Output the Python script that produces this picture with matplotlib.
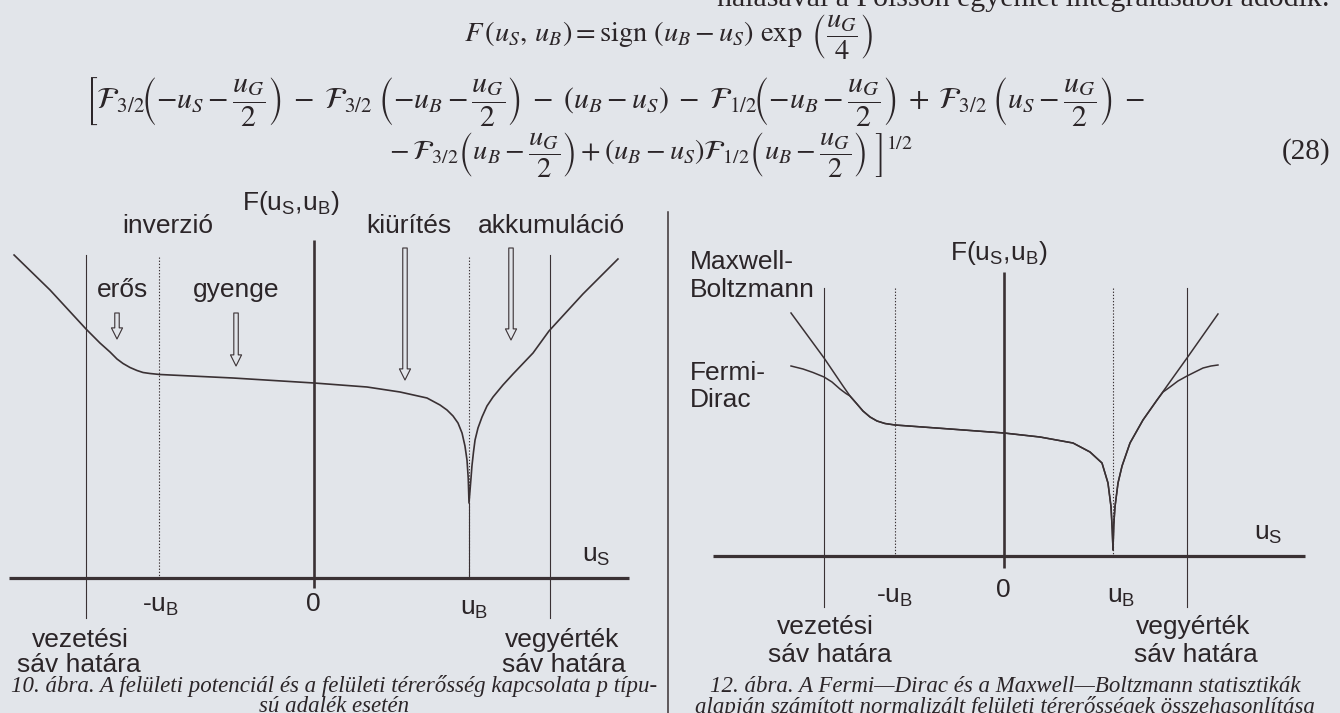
import matplotlib
matplotlib.use("Agg")
import matplotlib.pyplot as plt
from matplotlib.lines import Line2D

W, H = 1340, 713
BG = "#e2e5ea"
INK = "#2b2528"
LINE = "#3a3134"
SANS = "Liberation Sans"
SERIF = "Liberation Serif"

# ---------------- data: 10. ábra (F vs u_S, in units of u_B) ----------------
f10_us = [-1.935, -1.703, -1.471, -1.381, -1.316, -1.271, -1.232, -1.187, -1.142,
          -1.103, -1.058, -0.994, -0.523, 0.0, 0.342, 0.555, 0.729, 0.813, 0.858,
          0.897, 0.929, 0.955, 0.974, 0.987, 0.995, 1.0, 1.013, 1.019, 1.029, 1.039,
          1.058, 1.084, 1.116, 1.155, 1.219, 1.284, 1.413, 1.516, 1.735, 1.961]
f10_F = [3.23, 2.88, 2.49, 2.35, 2.26, 2.19, 2.145, 2.105, 2.075,
         2.055, 2.045, 2.035, 2.00, 1.95, 1.91, 1.86, 1.80, 1.73, 1.68,
         1.62, 1.55, 1.45, 1.32, 1.18, 1.00, 0.75, 1.00, 1.12, 1.26, 1.38,
         1.50, 1.61, 1.72, 1.81, 1.93, 2.04, 2.25, 2.47, 2.84, 3.19]
f10_bands = [-1.47, 1.52]          # vezetési / vegyérték sáv határa
f10_ub = [-1.0, 1.0]               # -u_B, u_B
f10_arrow_x = [-1.271, -0.503, 0.587, 1.271]   # erős, gyenge, kiürítés, akkumuláció
f10_arrow_top = [2.65, 2.65, 3.30, 3.30]
f10_arrow_tip = [2.39, 2.12, 1.98, 2.38]

# ---------------- data: 12. ábra (Maxwell–Boltzmann vs Fermi–Dirac) ----------------
mb_us = [-1.954, -1.826, -1.651, -1.477, -1.413, -1.349, -1.294, -1.229, -1.165,
         -1.092, -1.0, -0.495, 0.0, 0.330, 0.633, 0.789, 0.899, 0.954, 0.982,
         0.993, 1.0, 1.007, 1.018, 1.046, 1.083, 1.156, 1.275, 1.404, 1.541,
         1.679, 1.963]
mb_F = [2.43, 2.24, 1.98, 1.70, 1.60, 1.52, 1.45, 1.39, 1.35,
        1.325, 1.31, 1.27, 1.23, 1.19, 1.13, 1.04, 0.93, 0.73, 0.49,
        0.26, 0.06, 0.31, 0.49, 0.73, 0.90, 1.13, 1.36, 1.56, 1.77,
        1.98, 2.42]
fd_us = [-1.954, -1.844, -1.752, -1.651, -1.578, -1.505, -1.450, -1.413, -1.349,
         -1.294, -1.229, -1.165, -1.092, -1.0, -0.495, 0.0, 0.330, 0.633, 0.789,
         0.899, 0.954, 0.982, 0.993, 1.0, 1.007, 1.018, 1.046, 1.083, 1.156, 1.275,
         1.404, 1.459, 1.523, 1.596, 1.679, 1.752, 1.826, 1.899, 1.963]
fd_F = [1.90, 1.87, 1.835, 1.79, 1.74, 1.67, 1.625, 1.60, 1.52,
        1.45, 1.39, 1.35, 1.325, 1.31, 1.27, 1.23, 1.19, 1.13, 1.04,
        0.93, 0.73, 0.49, 0.26, 0.06, 0.31, 0.49, 0.73, 0.90, 1.13, 1.36,
        1.56, 1.64, 1.69, 1.75, 1.80, 1.84, 1.88, 1.90, 1.91]
f12_bands = [-1.65, 1.68]
f12_ub = [-1.0, 1.0]


def P(px, py):
    """pixel position -> figure fraction"""
    return px / W, 1 - py / H


fig = plt.figure(figsize=(W / 100, H / 100), dpi=100, facecolor=BG)


def ftext(px, py, s, size=19, family=SANS, ha="center", va="center", **kw):
    x, y = P(px, py)
    return fig.text(x, y, s, fontsize=size, family=family, ha=ha, va=va,
                    color=INK, math_fontfamily=kw.pop("mff", "dejavusans"), **kw)


# ---------------- formula (28) ----------------
line0 = "nálásával a Poisson egyenlet integrálásából adódik:"
line1 = r"$F\,(u_S,\,u_B) = \mathrm{sign}\ (u_B - u_S)\ \exp\ \left(\dfrac{u_G}{4}\right)$"
line2 = (r"$\left[\mathcal{F}_{3/2}\!\left(-u_S-\dfrac{u_G}{2}\right)\;-\;"
         r"\mathcal{F}_{3/2}\;\left(-u_B-\dfrac{u_G}{2}\right)\;-\;(u_B-u_S)\;-\;"
         r"\mathcal{F}_{1/2}\!\left(-u_B-\dfrac{u_G}{2}\right)\;+\;"
         r"\mathcal{F}_{3/2}\;\left(u_S-\dfrac{u_G}{2}\right)\;-\right.$")
line3 = (r"$\left.-\mathcal{F}_{3/2}\left(u_B-\dfrac{u_G}{2}\right)"
         r"+(u_B-u_S)\mathcal{F}_{1/2}\left(u_B-\dfrac{u_G}{2}\right)\ \right]^{1/2}$")

ftext(1330, -2, line0, size=21.5, family=SERIF, ha="right")
ftext(669, 36, line1, size=20.5, family=SERIF, mff="stix")
ftext(85, 102, line2, size=21.5, family=SERIF, ha="left", mff="stix")
ftext(385, 154, line3, size=20.5, family=SERIF, ha="left", mff="stix")
ftext(1330, 152, "(28)", size=21, family=SERIF, ha="right")

# ---------------- left diagram ----------------
axL = fig.add_axes([0, 0, 668 / W, 1])
axL.set_xlim(-314 / 155, (668 - 314) / 155)
axL.set_ylim((578 - 713) / 100, 578 / 100)
axL.axis("off")

axL.plot([-1.97, 2.03], [0, 0], color=LINE, lw=2.3, solid_capstyle="butt")
axL.plot([0, 0], [-0.10, 3.38], color=LINE, lw=1.9, solid_capstyle="butt")
for b in f10_bands:
    axL.plot([b, b], [3.23, -0.40], color=LINE, lw=0.8)
for u in f10_ub:
    axL.plot([u, u], [3.21, 0], color=LINE, lw=0.8, ls=(0, (1.2, 1.6)))
axL.plot([f10_ub[1], f10_ub[1]], [min(f10_F), 0], color=LINE, lw=0.8)
axL.plot(f10_us, f10_F, color=LINE, lw=1.2, solid_joinstyle="round")

for x, yt, yb in zip(f10_arrow_x, f10_arrow_top, f10_arrow_tip):
    axL.annotate("", xy=(x, yb), xytext=(x, yt),
                 arrowprops=dict(arrowstyle="simple,head_length=0.8,head_width=0.8,tail_width=0.32",
                                 fc=BG, ec=LINE, lw=0.8, shrinkA=0, shrinkB=0,
                                 mutation_scale=10))

ftext(291, 203, r"F(u$_\mathregular{S}$,u$_\mathregular{B}$)")
ftext(168, 226, "inverzió")
ftext(409, 226, "kiürítés")
ftext(551, 226, "akkumuláció")
ftext(123, 290, "erős")
ftext(236, 290, "gyenge")
ftext(596, 556, r"u$_\mathregular{S}$")
ftext(161, 606, r"-u$_\mathregular{B}$")
ftext(313, 604, "0")
ftext(474, 609, r"u$_\mathregular{B}$")
ftext(80, 640, "vezetési")
ftext(79, 665, "sáv határa")
ftext(562, 640, "vegyérték")
ftext(564, 665, "sáv határa")
ftext(334, 686, "10. ábra. A felületi potenciál és a felületi térerősség kapcsolata p típu-",
      size=16.5, family=SERIF, style="italic")
ftext(334, 707, "sú adalék esetén", size=16.5, family=SERIF, style="italic")

# divider between the two figures
fig.add_artist(Line2D([668 / W, 668 / W], [0, 1 - 212 / H], transform=fig.transFigure,
                      color=LINE, lw=1.1))

# ---------------- right diagram ----------------
axR = fig.add_axes([668 / W, 0, 672 / W, 1])
axR.set_xlim((668 - 1004) / 109, (1340 - 1004) / 109)
axR.set_ylim((556 - 713) / 100, 556 / 100)
axR.axis("off")

axR.plot([-2.67, 2.76], [0, 0], color=LINE, lw=2.3, solid_capstyle="butt")
axR.plot([0, 0], [-0.12, 2.84], color=LINE, lw=1.9, solid_capstyle="butt")
for b in f12_bands:
    axR.plot([b, b], [2.68, -0.51], color=LINE, lw=0.8)
for u in f12_ub:
    axR.plot([u, u], [2.68, 0], color=LINE, lw=0.8, ls=(0, (1.2, 1.6)))
axR.plot(mb_us, mb_F, color=LINE, lw=1.1, solid_joinstyle="round")
axR.plot(fd_us, fd_F, color=LINE, lw=1.1, solid_joinstyle="round")

ftext(999, 253, r"F(u$_\mathregular{S}$,u$_\mathregular{B}$)")
ftext(690, 262, "Maxwell-", ha="left")
ftext(690, 290, "Boltzmann", ha="left")
ftext(690, 373, "Fermi-", ha="left")
ftext(690, 400, "Dirac", ha="left")
ftext(1268, 534, r"u$_\mathregular{S}$")
ftext(895, 597, r"-u$_\mathregular{B}$")
ftext(1003, 590, "0")
ftext(1121, 597, r"u$_\mathregular{B}$")
ftext(825, 627, "vezetési")
ftext(830, 655, "sáv határa")
ftext(1193, 627, "vegyérték")
ftext(1196, 655, "sáv határa")
ftext(1005, 686, "12. ábra. A Fermi—Dirac és a Maxwell—Boltzmann statisztikák",
      size=16.5, family=SERIF, style="italic")
ftext(1005, 707, "alapján számított normalizált felületi térerősségek összehasonlítása",
      size=16.5, family=SERIF, style="italic")

fig.savefig("out.png", dpi=100, facecolor=BG)
